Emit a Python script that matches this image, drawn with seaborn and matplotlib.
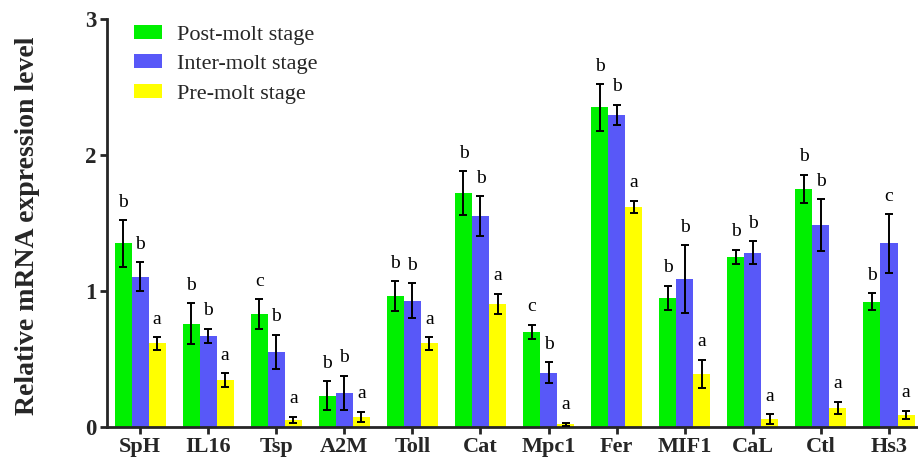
import numpy as np
import pandas as pd
import matplotlib
matplotlib.use("Agg")
import matplotlib.pyplot as plt
import seaborn as sns

genes = ["SpH", "IL16", "Tsp", "A2M", "Toll", "Cat", "Mpc1", "Fer", "MIF1", "CaL", "Ctl", "Hs3"]
stages = ["Post-molt stage", "Inter-molt stage", "Pre-molt stage"]

post_mean = [1.35, 0.76, 0.83, 0.23, 0.96, 1.72, 0.70, 2.35, 0.95, 1.25, 1.75, 0.92]
post_err  = [0.17, 0.15, 0.11, 0.105, 0.11, 0.16, 0.05, 0.17, 0.09, 0.055, 0.105, 0.062]
inter_mean = [1.105, 0.67, 0.55, 0.25, 0.93, 1.55, 0.40, 2.295, 1.085, 1.28, 1.485, 1.35]
inter_err  = [0.105, 0.05, 0.127, 0.126, 0.127, 0.145, 0.077, 0.072, 0.25, 0.085, 0.19, 0.215]
pre_mean = [0.614, 0.346, 0.052, 0.076, 0.614, 0.904, 0.02, 1.619, 0.39, 0.059, 0.142, 0.091]
pre_err  = [0.045, 0.05, 0.025, 0.037, 0.045, 0.074, 0.013, 0.043, 0.105, 0.035, 0.043, 0.03]

post_letters = ["b", "b", "c", "b", "b", "b", "c", "b", "b", "b", "b", "b"]
inter_letters = ["b", "b", "b", "b", "b", "b", "b", "b", "b", "b", "b", "c"]
pre_letters = ["a", "a", "a", "a", "a", "a", "a", "a", "a", "a", "a", "a"]

colors = ["#00F000", "#5858F8", "#FFFF00"]

means = [post_mean, inter_mean, pre_mean]
errs = [post_err, inter_err, pre_err]
letters = [post_letters, inter_letters, pre_letters]

df = pd.DataFrame({
    "gene": np.tile(genes, 3),
    "stage": np.repeat(stages, len(genes)),
    "value": np.concatenate(means),
})

sns.set_theme(style="ticks")
plt.rcParams["font.family"] = ["Liberation Serif", "DejaVu Serif"]

fig = plt.figure(figsize=(9.18, 4.63), dpi=100)
ax = fig.add_axes([106.7 / 918, 36 / 463, (918 - 106.7) / 918, 408 / 463])

sns.barplot(data=df, x="gene", y="value", hue="stage", order=genes, hue_order=stages,
            palette=colors, errorbar=None, width=0.75, saturation=1, ax=ax,
            edgecolor="none", linewidth=0)

bar_containers = list(ax.containers)
for ci, cont in enumerate(bar_containers):
    xs = [p.get_x() + p.get_width() / 2 for p in cont.patches]
    hs = [p.get_height() for p in cont.patches]
    ax.errorbar(xs, hs, yerr=errs[ci], fmt="none", ecolor="black",
                elinewidth=1.4, capsize=3, capthick=1.4, zorder=5)
    for x, h, e, lab in zip(xs, hs, errs[ci], letters[ci]):
        ax.text(x, h + e + 0.1, lab, ha="center", va="baseline", fontsize=14, color="black")

ax.set_xlim(-0.49, 11.426)
ax.set_ylim(0, 3)
ax.set_yticks([0, 1, 2, 3])
ax.set_yticklabels(["0", "1", "2", "3"])
sns.despine(ax=ax)
for s in ["left", "bottom"]:
    ax.spines[s].set_linewidth(2)
ax.tick_params(axis="both", direction="out", length=5, width=2, pad=2)
for lab in ax.get_xticklabels():
    lab.set_fontweight("bold")
    lab.set_fontsize(16)
for lab in ax.get_yticklabels():
    lab.set_fontweight("bold")
    lab.set_fontsize(16.5)
ax.set_xlabel("")
ax.set_ylabel("Relative mRNA expression level", fontsize=20, fontweight="bold")
ax.yaxis.set_label_coords(-0.082, 0.494)

leg = ax.legend(loc="upper left", bbox_to_anchor=(0.0337, 0.9857), frameon=False, fontsize=16,
                handlelength=1.26, handleheight=0.59, handletextpad=0.68, labelspacing=0.435,
                borderaxespad=0, borderpad=0)

fig.savefig("out.png", dpi=100)
